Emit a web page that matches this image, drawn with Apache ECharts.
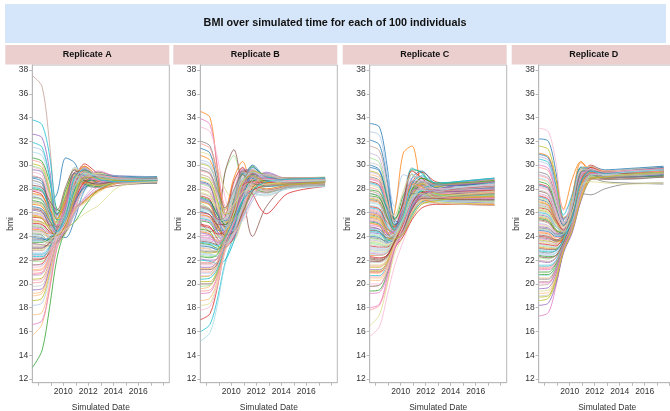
<!DOCTYPE html>
<html>
<head>
<meta charset="utf-8">
<script src="https://cdn.jsdelivr.net/npm/echarts@6/dist/echarts.min.js"></script>
<style>
  html, body { margin: 0; padding: 0; background: #fff; }
  #chart { width: 670px; height: 411px; }
</style>
</head>
<body>
<div id="chart"></div>
<script>
// Simulated dates (decimal years) at which each individual's BMI is sampled
const years = [2007.55, 2008.3, 2008.9, 2009.5, 2010.2, 2010.9, 2011.7, 2012.8, 2014.5, 2017.5];

// BMI trajectories, one row per individual
const bmiA = [
  [29.0, 28.8, 26.8, 27.6, 30.6, 30.2, 28.6, 28.8, 28.9, 28.8],
  [31.5, 31.2, 29.0, 25.6, 25.9, 28.4, 29.7, 29.0, 28.8, 28.7],
  [24.6, 24.5, 23.8, 23.6, 25.8, 28.6, 29.9, 29.1, 28.6, 28.5],
  [15.7, 16.6, 19.5, 23.0, 24.5, 26.3, 28.2, 28.9, 28.8, 28.8],
  [13.0, 14.4, 18.0, 22.2, 24.6, 25.2, 26.5, 27.9, 28.6, 28.7],
  [27.2, 27.0, 25.5, 24.4, 26.8, 29.2, 28.7, 28.4, 28.7, 28.9],
  [21.6, 21.7, 22.8, 24.6, 26.2, 28.7, 30.1, 29.3, 28.8, 28.6],
  [30.4, 30.1, 28.0, 25.2, 24.6, 26.2, 28.4, 29.4, 29.0, 28.9],
  [23.1, 23.1, 23.4, 24.2, 27.0, 29.3, 28.5, 28.2, 28.6, 28.8],
  [26.0, 25.8, 24.9, 24.0, 24.5, 26.6, 27.9, 28.8, 28.9, 28.7],
  [22.0, 22.1, 23.0, 24.8, 27.4, 29.6, 29.2, 28.6, 28.7, 28.6],
  [37.5, 36.6, 31.8, 25.4, 24.4, 26.0, 28.5, 29.1, 28.7, 28.6],
  [25.4, 25.2, 24.3, 23.8, 25.2, 27.8, 29.6, 29.0, 28.8, 28.9],
  [29.8, 29.5, 27.2, 24.8, 26.5, 29.3, 29.4, 28.7, 28.6, 28.7],
  [24.0, 23.9, 23.6, 23.9, 25.4, 27.4, 29.1, 29.4, 28.9, 29.0],
  [28.2, 28.0, 26.6, 25.6, 27.6, 29.4, 28.6, 28.5, 28.8, 28.8],
  [20.4, 20.5, 21.9, 24.0, 25.0, 26.3, 26.9, 27.8, 28.6, 28.7],
  [26.8, 26.6, 25.2, 24.6, 27.3, 29.7, 29.3, 28.6, 28.5, 28.6],
  [33.8, 33.4, 30.8, 26.0, 25.0, 27.4, 29.3, 28.8, 28.8, 28.9],
  [23.6, 23.6, 23.9, 24.9, 26.9, 28.4, 28.8, 29.0, 28.7, 28.8],
  [28.9, 28.6, 26.3, 24.2, 23.9, 25.4, 27.9, 29.2, 29.1, 28.9],
  [22.6, 22.6, 23.2, 24.1, 25.6, 28.0, 29.4, 29.0, 28.6, 28.5],
  [25.8, 25.6, 25.0, 24.8, 26.4, 28.2, 28.6, 28.3, 28.7, 28.8],
  [19.2, 19.4, 21.2, 23.6, 25.3, 27.6, 29.3, 29.1, 28.8, 28.7],
  [30.6, 30.3, 28.6, 26.3, 26.0, 27.5, 29.0, 29.2, 28.9, 29.0],
  [24.3, 24.2, 23.8, 23.4, 24.3, 26.9, 29.2, 29.3, 28.7, 28.6],
  [27.8, 27.5, 26.0, 24.6, 25.3, 27.9, 29.8, 28.9, 28.6, 28.7],
  [21.1, 21.2, 22.4, 24.3, 26.6, 29.0, 29.0, 28.6, 28.8, 28.9],
  [32.6, 32.3, 29.6, 25.8, 26.6, 28.8, 29.2, 28.6, 28.7, 28.8],
  [25.0, 24.9, 24.5, 24.5, 25.9, 28.0, 29.0, 28.8, 28.5, 28.5],
  [23.4, 23.3, 23.2, 23.5, 24.4, 26.0, 27.0, 27.9, 28.3, 28.5],
  [26.4, 26.2, 25.1, 24.3, 26.1, 29.0, 29.9, 28.9, 28.7, 28.6],
  [20.8, 20.9, 22.1, 24.0, 24.8, 26.6, 28.8, 29.5, 28.9, 28.7],
  [29.4, 29.1, 27.0, 24.5, 25.6, 28.6, 29.3, 28.6, 28.6, 28.8],
  [24.8, 24.7, 24.0, 24.1, 26.7, 29.0, 28.3, 28.1, 28.5, 28.7],
  [27.5, 27.3, 26.1, 25.4, 26.0, 27.5, 28.6, 28.9, 28.8, 28.9],
  [18.6, 18.8, 20.8, 23.6, 25.2, 27.2, 28.9, 29.0, 28.8, 28.7],
  [26.0, 25.9, 25.3, 25.2, 27.8, 29.8, 28.7, 28.2, 28.5, 28.6],
  [22.3, 22.3, 22.9, 24.1, 25.5, 27.6, 29.0, 29.2, 28.9, 29.0],
  [31.1, 30.8, 28.9, 26.0, 24.9, 25.9, 27.8, 28.8, 28.7, 28.7],
  [23.9, 23.8, 23.7, 24.3, 26.2, 28.5, 29.5, 29.0, 28.7, 28.7],
  [28.5, 28.2, 26.2, 24.6, 26.9, 29.8, 29.4, 28.7, 28.8, 28.8],
  [24.5, 24.4, 24.2, 24.7, 25.4, 26.4, 27.0, 27.9, 28.5, 28.9],
  [17.4, 17.6, 20.0, 23.4, 25.0, 27.0, 28.7, 29.1, 28.8, 28.6],
  [27.0, 26.8, 25.6, 24.9, 26.6, 28.9, 29.2, 28.5, 28.6, 28.7],
  [21.9, 21.9, 22.7, 24.2, 26.0, 28.2, 28.9, 28.7, 28.7, 28.8],
  [25.6, 25.5, 24.6, 24.0, 24.6, 26.8, 28.8, 29.1, 28.7, 28.5],
  [20.1, 20.2, 21.6, 23.8, 25.7, 28.3, 29.5, 28.9, 28.6, 28.7],
  [29.6, 29.4, 27.6, 25.8, 27.3, 29.0, 28.6, 28.4, 28.7, 28.9],
  [23.3, 23.3, 23.6, 24.6, 25.8, 27.3, 28.2, 28.9, 29.1, 29.0],
  [26.3, 26.1, 24.8, 23.8, 25.1, 28.3, 29.7, 29.0, 28.7, 28.6],
  [22.8, 22.8, 23.5, 24.6, 27.1, 29.1, 28.6, 28.3, 28.6, 28.8],
  [27.9, 27.7, 26.5, 25.0, 25.0, 26.3, 27.2, 28.2, 28.8, 28.8],
  [21.4, 21.5, 22.6, 24.3, 25.4, 27.8, 29.4, 29.1, 28.8, 28.7],
  [24.2, 24.1, 23.5, 23.5, 25.6, 28.5, 29.3, 28.6, 28.5, 28.6],
  [19.8, 19.9, 21.4, 23.9, 24.9, 26.3, 28.1, 29.0, 28.9, 28.8],
  [30.1, 29.8, 27.8, 25.4, 25.8, 28.0, 29.6, 29.0, 28.7, 28.8],
  [25.2, 25.1, 24.7, 24.4, 26.2, 28.6, 28.8, 28.5, 28.7, 28.7],
  [22.5, 22.5, 23.1, 24.4, 26.5, 28.9, 29.7, 29.1, 28.6, 28.5],
  [27.4, 27.1, 25.6, 24.2, 24.8, 27.2, 29.1, 29.1, 28.8, 28.9],
  [23.7, 23.7, 23.9, 24.5, 25.6, 27.0, 28.1, 28.6, 28.8, 28.7],
  [18.2, 18.4, 20.5, 23.5, 24.9, 26.9, 28.8, 29.2, 28.9, 28.8],
  [26.7, 26.5, 25.4, 24.4, 25.8, 28.8, 29.9, 29.0, 28.6, 28.6],
  [21.2, 21.3, 22.3, 23.9, 24.7, 26.2, 26.8, 27.7, 28.6, 28.9],
  [28.0, 27.8, 26.7, 25.9, 27.9, 29.3, 28.4, 28.2, 28.6, 28.8],
  [24.9, 24.8, 24.3, 24.2, 25.2, 27.4, 29.2, 29.3, 28.9, 28.8],
  [22.1, 22.1, 22.6, 23.7, 25.1, 27.9, 29.6, 29.0, 28.7, 28.7],
  [29.1, 28.8, 26.8, 24.9, 26.0, 28.7, 29.3, 28.6, 28.5, 28.6],
  [19.5, 19.6, 21.3, 23.7, 25.5, 27.8, 29.0, 28.9, 28.8, 28.9],
  [25.9, 25.7, 24.6, 23.9, 24.5, 26.0, 27.1, 28.0, 28.7, 28.8],
  [23.0, 23.0, 23.5, 24.5, 26.8, 29.4, 29.5, 28.7, 28.6, 28.7],
  [26.9, 26.7, 25.8, 25.2, 26.3, 27.8, 28.6, 28.8, 28.8, 28.9],
  [16.6, 16.9, 19.6, 23.1, 24.7, 26.6, 28.5, 29.0, 28.8, 28.7],
  [24.4, 24.3, 23.9, 23.9, 24.9, 27.6, 29.7, 29.2, 28.7, 28.6],
  [28.7, 28.4, 26.4, 24.7, 25.3, 27.3, 28.8, 29.1, 28.9, 28.8],
  [20.7, 20.8, 22.2, 24.2, 26.4, 28.9, 29.4, 28.8, 28.7, 28.7],
  [25.3, 25.2, 24.9, 25.3, 27.5, 29.2, 28.5, 28.3, 28.6, 28.8],
  [22.9, 22.9, 23.3, 24.0, 24.9, 26.9, 28.9, 29.3, 28.9, 28.9],
  [31.9, 31.5, 29.0, 25.4, 25.5, 27.9, 29.4, 28.9, 28.8, 28.8],
  [24.1, 24.0, 23.6, 23.7, 25.9, 28.8, 29.2, 28.7, 28.6, 28.7],
  [26.5, 26.3, 25.3, 24.5, 25.2, 26.8, 28.3, 29.2, 29.0, 29.0],
  [21.6, 21.6, 22.5, 24.1, 25.9, 28.3, 29.1, 28.9, 28.7, 28.6],
  [27.6, 27.4, 26.3, 25.5, 27.0, 28.4, 28.5, 28.6, 28.8, 28.8],
  [19.0, 19.2, 21.0, 23.8, 25.2, 27.5, 29.3, 29.2, 28.8, 28.7],
  [23.5, 23.5, 23.8, 24.4, 26.0, 27.9, 28.7, 28.7, 28.7, 28.9],
  [29.9, 29.6, 27.5, 25.1, 25.2, 27.6, 29.5, 29.1, 28.7, 28.7],
  [25.1, 25.0, 24.4, 24.1, 25.0, 27.0, 28.6, 29.1, 28.9, 28.8],
  [20.9, 21.0, 22.4, 24.4, 26.7, 29.2, 29.4, 28.7, 28.6, 28.7],
  [26.2, 26.0, 25.0, 24.2, 26.4, 29.3, 29.1, 28.5, 28.6, 28.8],
  [22.4, 22.4, 22.9, 23.8, 24.5, 25.8, 27.3, 28.5, 28.9, 28.9],
  [28.3, 28.1, 27.0, 26.2, 28.2, 29.6, 28.7, 28.4, 28.7, 28.7],
  [23.8, 23.7, 23.4, 23.5, 24.7, 27.1, 29.0, 29.2, 28.8, 28.6],
  [24.7, 24.6, 24.3, 24.7, 26.6, 28.6, 29.0, 28.7, 28.6, 28.7],
  [20.3, 20.4, 21.8, 23.9, 25.1, 27.3, 28.9, 29.1, 28.9, 28.8],
  [27.3, 27.1, 25.9, 24.8, 25.4, 27.3, 28.9, 29.0, 28.8, 28.9],
  [22.2, 22.2, 22.9, 24.3, 26.1, 28.6, 29.8, 29.0, 28.6, 28.6],
  [25.7, 25.5, 24.6, 24.1, 24.9, 27.4, 29.0, 28.9, 28.7, 28.7],
  [23.2, 23.2, 23.6, 24.2, 24.6, 25.2, 25.9, 26.6, 28.2, 28.6],
  [28.1, 27.9, 26.2, 24.4, 25.7, 29.0, 29.6, 28.8, 28.6, 28.7],
  [24.5, 24.4, 24.1, 24.2, 25.5, 28.1, 29.3, 29.1, 28.8, 28.8]
];

const bmiB = [
  [28.6, 28.3, 26.0, 23.6, 24.6, 28.4, 30.0, 28.9, 28.4, 28.6],
  [30.4, 30.1, 28.0, 25.0, 24.9, 27.4, 29.6, 29.0, 28.6, 28.7],
  [34.5, 34.0, 29.5, 24.6, 24.0, 26.5, 29.0, 29.2, 28.7, 28.8],
  [23.0, 22.9, 22.6, 23.4, 25.8, 28.6, 29.2, 28.4, 28.3, 28.5],
  [24.6, 24.4, 23.2, 23.0, 24.8, 28.2, 29.9, 28.7, 28.4, 28.6],
  [26.8, 26.3, 25.6, 29.4, 30.8, 28.5, 27.5, 28.4, 28.8, 28.9],
  [17.0, 17.5, 19.8, 22.9, 24.6, 26.8, 28.8, 29.1, 28.8, 28.7],
  [29.5, 29.2, 27.4, 25.6, 27.8, 29.7, 28.4, 27.8, 28.2, 28.4],
  [21.4, 21.4, 21.9, 23.4, 25.1, 27.2, 28.9, 29.3, 28.8, 28.9],
  [25.9, 25.6, 24.3, 23.3, 23.8, 25.6, 27.8, 28.9, 28.8, 28.7],
  [25.2, 24.4, 24.8, 29.4, 31.3, 27.8, 24.0, 26.5, 28.2, 28.4],
  [27.6, 27.3, 26.0, 25.4, 27.6, 29.4, 28.8, 28.2, 28.5, 28.6],
  [33.9, 33.4, 29.8, 25.8, 24.1, 25.8, 28.4, 29.2, 28.9, 28.9],
  [33.2, 32.8, 30.6, 27.3, 25.2, 25.3, 27.0, 28.4, 28.6, 28.5],
  [32.0, 31.6, 29.0, 25.8, 26.4, 29.4, 29.6, 28.7, 28.6, 28.7],
  [24.0, 23.9, 23.9, 25.2, 28.4, 29.8, 28.0, 27.6, 28.1, 28.3],
  [20.6, 20.7, 21.6, 23.5, 24.3, 25.9, 27.8, 28.9, 28.9, 28.8],
  [31.1, 30.8, 29.7, 28.0, 27.1, 27.6, 28.8, 28.9, 28.7, 28.8],
  [16.0, 16.6, 18.8, 21.8, 24.0, 25.9, 27.8, 28.7, 28.7, 28.8],
  [15.2, 15.9, 18.3, 21.6, 23.6, 25.4, 27.3, 28.5, 28.6, 28.6],
  [26.1, 25.8, 24.4, 23.8, 26.0, 29.3, 29.4, 28.4, 28.5, 28.7],
  [22.5, 22.4, 22.3, 23.3, 24.5, 26.3, 28.3, 29.1, 28.9, 28.9],
  [30.8, 30.4, 28.6, 26.2, 28.9, 30.3, 28.1, 27.7, 28.3, 28.5],
  [19.6, 19.8, 20.9, 23.1, 25.0, 27.5, 29.3, 28.9, 28.6, 28.7],
  [25.3, 25.1, 24.1, 23.6, 25.4, 27.8, 28.4, 28.3, 28.5, 28.6],
  [28.9, 28.6, 26.8, 24.9, 24.6, 26.2, 28.1, 29.0, 28.9, 29.0],
  [27.4, 27.1, 25.4, 25.6, 28.6, 29.8, 27.6, 25.9, 27.6, 28.2],
  [21.0, 21.0, 21.8, 23.6, 26.2, 28.9, 29.2, 28.5, 28.4, 28.6],
  [24.3, 24.1, 23.5, 23.7, 24.5, 26.2, 28.6, 29.4, 28.8, 28.7],
  [29.8, 29.5, 27.0, 24.0, 23.8, 25.9, 28.5, 29.1, 28.9, 28.9],
  [23.6, 23.5, 23.3, 24.2, 27.2, 29.3, 28.3, 27.9, 28.2, 28.4],
  [26.6, 26.3, 25.2, 24.9, 25.5, 27.0, 28.2, 28.6, 28.6, 28.7],
  [19.2, 19.3, 20.6, 22.9, 24.3, 26.4, 28.7, 29.2, 28.8, 28.8],
  [28.2, 27.9, 26.4, 25.6, 27.9, 29.5, 28.9, 28.3, 28.5, 28.5],
  [22.8, 22.7, 22.7, 23.9, 25.6, 27.6, 28.5, 28.6, 28.6, 28.7],
  [25.6, 25.4, 24.9, 25.4, 27.6, 28.9, 28.1, 28.0, 28.3, 28.5],
  [20.2, 20.2, 21.2, 23.4, 25.7, 28.6, 29.6, 28.8, 28.5, 28.6],
  [27.9, 27.6, 25.5, 23.5, 23.6, 25.5, 27.9, 29.0, 28.9, 28.9],
  [22.0, 21.9, 21.7, 22.0, 23.6, 26.6, 28.6, 29.0, 28.8, 28.9],
  [24.8, 24.6, 23.9, 24.0, 26.5, 29.4, 29.0, 28.3, 28.4, 28.6],
  [31.4, 31.0, 28.3, 24.8, 25.1, 28.0, 29.8, 29.0, 28.6, 28.8],
  [23.3, 23.2, 22.8, 23.0, 24.2, 26.8, 29.0, 28.9, 28.7, 28.7],
  [26.9, 26.6, 25.0, 24.1, 25.9, 28.6, 29.1, 28.5, 28.5, 28.7],
  [18.6, 18.8, 20.3, 23.0, 24.8, 27.2, 29.0, 28.9, 28.7, 28.6],
  [22.3, 22.2, 22.5, 24.0, 26.9, 29.2, 28.2, 27.7, 28.1, 28.3],
  [28.4, 28.1, 26.9, 26.3, 27.3, 28.1, 28.5, 28.6, 28.7, 28.8],
  [25.0, 24.8, 23.8, 23.1, 23.9, 26.0, 28.1, 28.9, 28.8, 28.9],
  [21.8, 21.8, 22.2, 23.7, 25.2, 27.4, 28.8, 28.7, 28.5, 28.6],
  [27.1, 26.8, 25.3, 24.4, 26.6, 29.6, 29.5, 28.4, 28.4, 28.6],
  [23.8, 23.7, 23.7, 24.5, 25.2, 26.3, 27.4, 28.2, 28.5, 28.6],
  [20.0, 20.0, 21.0, 23.2, 26.3, 29.5, 29.3, 28.4, 28.5, 28.7],
  [29.2, 28.9, 27.6, 26.0, 25.8, 26.9, 28.4, 28.9, 28.8, 28.8],
  [24.1, 24.0, 23.4, 23.3, 24.0, 25.6, 27.3, 28.7, 28.9, 28.9],
  [21.6, 21.6, 21.9, 23.3, 25.4, 28.3, 29.6, 28.9, 28.6, 28.6],
  [26.4, 26.1, 24.7, 23.9, 24.8, 27.4, 29.2, 29.0, 28.8, 28.7],
  [23.1, 23.0, 23.2, 24.6, 27.4, 29.0, 27.7, 27.4, 28.0, 28.2],
  [30.1, 29.8, 28.1, 25.9, 26.1, 28.2, 29.3, 28.8, 28.6, 28.7],
  [18.2, 18.4, 20.1, 22.8, 24.5, 26.8, 28.6, 28.8, 28.6, 28.7],
  [25.5, 25.3, 24.5, 24.6, 26.9, 29.3, 28.9, 28.2, 28.3, 28.5],
  [22.6, 22.5, 22.4, 23.2, 24.1, 25.5, 27.0, 28.3, 28.7, 28.8],
  [27.2, 26.9, 25.8, 25.3, 26.4, 28.1, 28.9, 28.7, 28.7, 28.9],
  [20.9, 20.9, 21.5, 23.4, 25.9, 28.8, 29.7, 28.8, 28.5, 28.6],
  [24.4, 24.2, 23.6, 23.9, 26.2, 28.4, 28.3, 28.0, 28.3, 28.5],
  [28.7, 28.4, 26.5, 24.5, 24.3, 26.0, 28.3, 29.2, 28.9, 28.9],
  [23.4, 23.3, 23.0, 23.5, 25.3, 28.0, 29.4, 28.9, 28.6, 28.7],
  [19.8, 19.9, 21.0, 23.4, 25.5, 28.0, 29.0, 28.6, 28.5, 28.6],
  [26.0, 25.8, 25.0, 25.0, 26.0, 27.3, 27.9, 28.3, 28.5, 28.6],
  [31.8, 31.4, 29.4, 26.5, 26.3, 28.3, 29.5, 28.8, 28.6, 28.7],
  [22.1, 22.0, 22.1, 23.2, 24.8, 27.3, 29.1, 29.1, 28.8, 28.8],
  [25.7, 25.5, 24.2, 23.5, 24.4, 27.3, 29.5, 28.9, 28.6, 28.7],
  [21.2, 21.2, 21.7, 23.4, 24.9, 26.8, 28.4, 28.9, 28.8, 28.9],
  [28.0, 27.7, 26.2, 25.1, 26.8, 29.1, 29.1, 28.4, 28.4, 28.6],
  [23.9, 23.8, 23.5, 24.0, 25.8, 27.8, 28.5, 28.4, 28.5, 28.7],
  [17.8, 18.1, 19.9, 22.7, 24.2, 26.3, 28.4, 29.0, 28.8, 28.8],
  [27.0, 26.7, 25.5, 24.8, 25.4, 27.0, 28.6, 29.0, 28.9, 28.9],
  [22.9, 22.8, 22.9, 24.3, 26.6, 28.6, 28.3, 27.8, 28.2, 28.4],
  [29.0, 28.7, 27.0, 25.2, 25.5, 27.7, 29.5, 29.2, 28.8, 28.8],
  [24.7, 24.5, 24.0, 24.2, 25.3, 27.2, 28.4, 28.7, 28.7, 28.8],
  [20.4, 20.5, 21.3, 23.2, 24.7, 27.0, 29.0, 29.0, 28.6, 28.6],
  [26.3, 26.1, 25.3, 25.5, 27.7, 28.8, 27.7, 27.5, 28.0, 28.2],
  [23.2, 23.1, 22.9, 23.6, 25.0, 27.5, 29.2, 28.9, 28.6, 28.7],
  [30.2, 29.9, 27.8, 25.0, 24.5, 26.6, 29.0, 29.2, 28.8, 28.9],
  [25.8, 25.6, 24.6, 24.0, 25.6, 28.4, 29.3, 28.6, 28.5, 28.6],
  [21.3, 21.3, 21.9, 23.8, 26.0, 28.1, 28.6, 28.4, 28.5, 28.7],
  [27.3, 27.0, 25.8, 25.0, 25.7, 27.6, 28.7, 28.7, 28.7, 28.8],
  [22.4, 22.3, 22.5, 23.7, 25.1, 26.4, 27.5, 28.3, 28.6, 28.7],
  [24.9, 24.7, 24.2, 24.4, 26.1, 28.3, 28.6, 28.5, 28.6, 28.7],
  [19.4, 19.5, 20.7, 23.1, 25.2, 27.9, 29.4, 28.9, 28.6, 28.6],
  [28.5, 28.2, 26.1, 24.2, 25.3, 28.1, 29.3, 28.7, 28.5, 28.7],
  [23.7, 23.6, 23.5, 24.3, 26.4, 28.2, 27.8, 27.7, 28.1, 28.3],
  [26.5, 26.2, 24.9, 24.1, 24.4, 26.0, 27.8, 28.8, 28.8, 28.8],
  [21.7, 21.7, 22.2, 23.9, 26.6, 29.4, 29.0, 28.3, 28.4, 28.6],
  [25.4, 25.2, 24.4, 23.8, 25.0, 27.6, 29.0, 28.9, 28.7, 28.8],
  [20.7, 20.7, 21.5, 23.5, 25.3, 27.3, 28.5, 28.8, 28.7, 28.7],
  [29.6, 29.3, 27.8, 26.4, 27.9, 29.2, 28.5, 28.2, 28.4, 28.6],
  [24.5, 24.3, 23.7, 23.4, 24.3, 26.5, 28.7, 29.1, 28.8, 28.8],
  [22.7, 22.6, 22.8, 24.1, 26.0, 28.6, 29.1, 28.5, 28.4, 28.6],
  [27.7, 27.4, 26.4, 25.9, 26.7, 27.7, 28.1, 28.4, 28.6, 28.7],
  [23.5, 23.4, 23.2, 23.9, 25.4, 27.0, 27.9, 28.6, 28.8, 28.9],
  [26.2, 26.0, 25.1, 24.6, 25.9, 28.5, 29.4, 28.8, 28.6, 28.7]
];

const bmiC = [
  [33.5, 33.2, 30.0, 25.2, 24.6, 26.4, 27.6, 27.9, 28.0, 28.3],
  [32.8, 32.5, 29.5, 26.5, 29.2, 28.8, 27.4, 27.2, 27.4, 27.6],
  [27.0, 26.8, 25.0, 26.0, 31.0, 31.6, 28.2, 27.4, 27.6, 27.9],
  [29.2, 28.9, 26.4, 23.8, 24.4, 26.6, 27.9, 27.8, 27.7, 27.8],
  [25.2, 25.0, 23.8, 23.8, 26.4, 29.6, 29.4, 28.0, 28.2, 28.4],
  [23.4, 23.3, 23.1, 23.5, 24.6, 26.3, 27.3, 27.4, 27.5, 27.4],
  [28.6, 28.3, 26.2, 24.5, 25.9, 28.5, 29.4, 28.6, 28.4, 28.6],
  [17.8, 18.2, 20.0, 22.8, 24.5, 26.6, 27.8, 27.5, 27.6, 27.7],
  [26.0, 25.8, 24.5, 23.6, 24.2, 25.8, 26.9, 27.0, 26.9, 26.8],
  [31.0, 30.6, 27.8, 24.6, 25.6, 27.8, 28.3, 27.8, 27.9, 28.1],
  [22.2, 22.1, 22.4, 23.4, 25.3, 27.5, 28.3, 27.9, 28.0, 28.3],
  [27.8, 27.5, 25.8, 24.4, 25.0, 26.8, 27.6, 27.4, 27.3, 27.2],
  [18.0, 18.3, 20.4, 23.0, 24.3, 26.2, 27.5, 27.6, 27.9, 28.1],
  [15.6, 16.4, 18.9, 21.5, 23.6, 25.5, 26.8, 27.3, 27.6, 27.7],
  [24.8, 24.6, 23.9, 24.0, 25.7, 27.7, 28.2, 27.6, 27.4, 27.3],
  [30.2, 29.9, 28.0, 25.8, 27.6, 29.8, 28.4, 27.6, 27.8, 28.0],
  [21.4, 21.4, 21.9, 23.3, 24.4, 26.0, 27.0, 27.1, 27.0, 26.9],
  [16.5, 17.4, 19.8, 22.5, 24.0, 25.8, 27.0, 27.5, 27.8, 28.0],
  [24.6, 24.4, 23.6, 24.0, 26.8, 29.7, 29.3, 27.7, 27.8, 28.0],
  [26.6, 26.4, 25.1, 24.3, 25.2, 27.0, 27.9, 28.1, 28.4, 28.7],
  [29.8, 29.5, 27.2, 24.9, 26.3, 28.9, 29.5, 28.4, 28.3, 28.5],
  [22.9, 22.8, 22.8, 23.6, 25.4, 27.6, 28.0, 27.6, 27.5, 27.4],
  [25.6, 25.4, 24.3, 23.6, 24.5, 26.4, 27.3, 27.6, 28.0, 28.3],
  [20.3, 20.3, 21.3, 23.2, 24.9, 27.0, 28.2, 28.2, 28.5, 28.8],
  [27.4, 27.2, 26.0, 25.4, 27.4, 28.6, 27.7, 27.2, 27.1, 27.0],
  [23.8, 23.7, 23.4, 23.9, 26.0, 28.3, 28.6, 28.0, 28.1, 28.4],
  [21.0, 21.0, 21.6, 23.0, 24.0, 25.4, 26.4, 26.7, 26.7, 26.6],
  [28.1, 27.8, 25.9, 24.1, 24.9, 27.4, 28.6, 28.4, 28.6, 28.9],
  [24.3, 24.2, 23.7, 23.8, 25.0, 26.9, 27.4, 27.1, 27.0, 27.1],
  [26.3, 26.1, 25.0, 24.7, 26.6, 28.9, 29.0, 28.1, 28.0, 28.2],
  [19.8, 19.9, 21.0, 23.0, 24.6, 26.7, 27.8, 27.9, 28.2, 28.5],
  [31.6, 31.2, 28.5, 25.0, 24.8, 26.5, 27.8, 27.7, 27.6, 27.6],
  [22.6, 22.5, 22.6, 23.5, 25.8, 28.3, 28.4, 27.6, 27.6, 27.8],
  [25.0, 24.9, 24.3, 24.4, 25.6, 27.1, 27.4, 27.2, 27.3, 27.5],
  [29.0, 28.7, 26.6, 24.8, 26.8, 29.2, 28.5, 27.7, 27.8, 28.0],
  [21.8, 21.8, 22.1, 23.4, 25.1, 27.3, 28.3, 28.4, 28.6, 28.8],
  [27.2, 27.0, 25.6, 24.5, 24.7, 25.9, 26.8, 26.9, 26.8, 26.7],
  [23.6, 23.5, 23.3, 23.8, 25.6, 27.9, 28.7, 28.2, 28.2, 28.4],
  [20.7, 20.7, 21.5, 23.2, 24.3, 25.8, 26.9, 27.3, 27.4, 27.6],
  [26.8, 26.6, 25.5, 25.1, 27.2, 29.3, 28.3, 27.4, 27.4, 27.6],
  [24.0, 23.9, 23.5, 23.7, 24.8, 26.8, 27.9, 28.0, 28.3, 28.6],
  [28.4, 28.1, 26.0, 24.3, 25.3, 27.8, 28.8, 28.3, 28.2, 28.3],
  [22.4, 22.4, 22.6, 23.7, 25.4, 26.9, 27.1, 26.8, 26.7, 26.7],
  [25.4, 25.2, 24.2, 23.7, 25.2, 27.9, 28.9, 28.4, 28.5, 28.7],
  [19.4, 19.5, 20.8, 23.0, 24.7, 27.0, 28.0, 27.7, 27.7, 27.9],
  [30.6, 30.2, 27.5, 24.7, 25.9, 28.0, 27.9, 27.3, 27.4, 27.5],
  [23.2, 23.1, 23.1, 23.8, 25.2, 26.9, 27.6, 27.7, 27.9, 28.2],
  [26.2, 26.0, 24.8, 24.1, 25.9, 28.6, 28.6, 27.6, 27.5, 27.6],
  [21.2, 21.2, 21.7, 23.2, 24.6, 26.5, 27.6, 27.9, 28.3, 28.6],
  [27.6, 27.4, 26.2, 25.6, 26.5, 27.4, 27.2, 27.0, 27.1, 27.2],
  [24.5, 24.4, 23.8, 23.7, 24.5, 26.2, 27.6, 28.1, 28.5, 28.8],
  [22.0, 21.9, 22.2, 23.5, 25.8, 28.6, 28.5, 27.5, 27.4, 27.5],
  [28.8, 28.5, 26.4, 24.2, 24.3, 26.0, 27.2, 27.4, 27.5, 27.7],
  [20.0, 20.0, 21.0, 23.0, 24.4, 26.1, 27.1, 27.4, 27.7, 27.9],
  [25.8, 25.6, 24.6, 24.3, 25.8, 28.0, 28.4, 27.9, 28.0, 28.2],
  [23.0, 22.9, 22.9, 23.6, 24.7, 26.1, 26.8, 26.8, 26.7, 26.6],
  [29.5, 29.2, 27.1, 24.9, 25.6, 27.6, 28.5, 28.2, 28.4, 28.7],
  [21.6, 21.6, 22.0, 23.4, 25.3, 27.8, 28.6, 28.0, 28.0, 28.2],
  [26.4, 26.2, 24.9, 24.2, 25.3, 27.3, 27.8, 27.5, 27.4, 27.5],
  [24.2, 24.1, 23.8, 24.3, 26.1, 28.0, 27.8, 27.1, 27.0, 27.1],
  [32.1, 31.7, 28.9, 25.4, 25.1, 27.2, 28.6, 28.3, 28.3, 28.5],
  [22.7, 22.6, 22.7, 23.6, 24.9, 26.7, 27.7, 27.8, 28.0, 28.3],
  [25.1, 24.9, 24.0, 23.6, 24.9, 27.4, 28.2, 27.8, 27.7, 27.8],
  [20.5, 20.5, 21.4, 23.2, 25.0, 27.5, 28.5, 28.1, 28.0, 28.2],
  [27.9, 27.7, 26.4, 25.5, 26.7, 28.1, 27.8, 27.3, 27.2, 27.3],
  [23.5, 23.4, 23.2, 23.6, 24.4, 25.9, 27.2, 27.6, 27.9, 28.2],
  [26.5, 26.3, 25.2, 24.8, 27.0, 29.5, 28.9, 27.9, 27.8, 27.9],
  [21.5, 21.5, 21.9, 23.3, 24.7, 26.4, 27.3, 27.3, 27.3, 27.4],
  [24.7, 24.6, 24.1, 24.5, 26.5, 28.5, 28.3, 27.7, 27.8, 28.0],
  [29.4, 29.1, 26.8, 24.4, 24.9, 27.0, 28.2, 28.3, 28.5, 28.8],
  [22.1, 22.0, 22.3, 23.6, 25.6, 28.0, 28.9, 28.4, 28.4, 28.6],
  [25.5, 25.3, 24.4, 24.0, 24.8, 26.5, 27.3, 27.2, 27.1, 27.0],
  [19.2, 19.3, 20.6, 22.9, 24.4, 26.3, 27.6, 27.8, 28.0, 28.2],
  [27.3, 27.1, 25.7, 24.6, 25.8, 28.2, 28.7, 28.0, 27.9, 28.0],
  [23.9, 23.8, 23.6, 24.1, 25.3, 26.9, 27.4, 27.4, 27.6, 27.8],
  [26.9, 26.7, 25.3, 24.5, 24.7, 26.2, 27.3, 27.7, 28.0, 28.3],
  [21.1, 21.1, 21.8, 23.4, 25.5, 28.0, 28.4, 27.6, 27.5, 27.6],
  [28.3, 28.0, 26.7, 25.7, 27.8, 29.2, 28.1, 27.3, 27.4, 27.6],
  [24.4, 24.3, 23.7, 23.6, 24.6, 26.7, 28.0, 28.3, 28.6, 28.9],
  [22.5, 22.4, 22.6, 23.7, 25.6, 27.3, 27.5, 27.0, 26.9, 26.9],
  [30.0, 29.6, 27.4, 25.0, 25.5, 27.7, 28.6, 28.1, 28.0, 28.1],
  [23.1, 23.0, 23.0, 23.8, 25.1, 27.2, 28.2, 28.0, 28.1, 28.4],
  [25.9, 25.7, 24.7, 24.2, 26.0, 28.4, 28.2, 27.4, 27.3, 27.3],
  [20.9, 20.9, 21.6, 23.3, 24.5, 26.1, 27.0, 27.2, 27.4, 27.7],
  [27.6, 27.3, 25.7, 24.5, 25.5, 27.9, 28.9, 28.5, 28.5, 28.7],
  [24.1, 24.0, 23.7, 23.9, 25.5, 27.5, 27.9, 27.5, 27.4, 27.5],
  [22.3, 22.2, 22.4, 23.6, 25.0, 26.8, 27.7, 27.8, 28.0, 28.2],
  [28.9, 28.6, 26.9, 25.3, 26.5, 28.5, 28.0, 27.2, 27.2, 27.3],
  [25.3, 25.1, 24.2, 23.8, 24.6, 26.4, 27.5, 27.9, 28.3, 28.6],
  [23.7, 23.6, 23.4, 24.0, 26.2, 28.7, 28.7, 27.8, 27.7, 27.8],
  [21.9, 21.9, 22.3, 23.5, 24.6, 26.3, 27.2, 27.2, 27.1, 27.1],
  [26.1, 25.9, 24.7, 24.0, 25.2, 27.6, 28.6, 28.3, 28.4, 28.6],
  [24.9, 24.8, 24.3, 24.4, 25.9, 27.8, 28.0, 27.4, 27.2, 27.2],
  [20.6, 20.6, 21.4, 23.1, 24.8, 26.9, 28.0, 28.0, 28.1, 28.4],
  [27.1, 26.9, 25.5, 24.7, 26.0, 27.6, 27.6, 27.3, 27.4, 27.6],
  [23.3, 23.2, 23.2, 23.9, 25.7, 28.1, 28.6, 28.0, 28.0, 28.2],
  [25.7, 25.5, 24.4, 23.8, 24.2, 25.6, 26.7, 27.0, 27.2, 27.4],
  [22.8, 22.7, 22.8, 23.8, 25.6, 27.4, 27.6, 27.3, 27.5, 27.8],
  [28.5, 28.2, 26.3, 24.6, 25.7, 28.4, 29.1, 28.5, 28.6, 28.9],
  [24.6, 24.5, 24.0, 24.2, 25.4, 27.2, 27.9, 27.8, 28.1, 28.5]
];

const bmiD = [
  [32.2, 32.0, 29.4, 25.3, 25.0, 27.8, 29.5, 29.5, 29.6, 29.8],
  [30.3, 30.0, 27.6, 24.8, 26.9, 29.9, 29.6, 29.2, 29.4, 29.6],
  [31.0, 30.7, 28.8, 26.3, 28.8, 30.3, 29.4, 29.0, 29.2, 29.4],
  [24.6, 24.5, 23.8, 23.6, 25.4, 28.4, 29.5, 29.3, 29.3, 29.5],
  [22.4, 22.3, 22.4, 23.0, 24.6, 27.8, 29.4, 29.2, 29.1, 29.3],
  [26.8, 26.6, 25.4, 24.6, 27.4, 29.8, 29.3, 28.9, 29.1, 29.2],
  [28.4, 28.1, 26.2, 24.3, 25.8, 28.9, 30.0, 29.5, 29.5, 29.7],
  [21.3, 21.3, 21.9, 23.4, 25.2, 28.0, 29.5, 29.4, 29.6, 29.8],
  [25.8, 25.6, 24.6, 24.2, 26.4, 29.4, 29.8, 29.3, 29.2, 29.3],
  [23.6, 23.5, 23.3, 23.7, 25.0, 27.4, 28.8, 29.0, 29.1, 29.2],
  [27.8, 27.5, 25.7, 24.1, 25.4, 28.3, 29.3, 29.1, 29.3, 29.5],
  [20.2, 20.2, 21.1, 23.0, 24.7, 27.5, 29.2, 29.3, 29.4, 29.6],
  [17.3, 17.6, 19.8, 22.7, 24.4, 27.0, 28.9, 29.0, 29.2, 29.3],
  [33.1, 32.8, 30.2, 26.2, 26.9, 29.4, 29.9, 29.5, 29.4, 29.5],
  [29.4, 29.1, 27.3, 25.4, 26.4, 27.6, 27.5, 28.0, 28.4, 28.5],
  [24.2, 24.1, 23.7, 24.0, 26.5, 29.4, 29.7, 29.4, 29.6, 29.9],
  [26.2, 26.0, 25.1, 24.9, 26.6, 28.6, 28.9, 28.8, 28.9, 29.0],
  [19.4, 19.5, 20.6, 22.8, 24.5, 27.2, 28.9, 29.2, 29.5, 29.7],
  [27.3, 27.0, 25.5, 24.4, 26.0, 28.9, 29.6, 29.4, 29.5, 29.6],
  [22.9, 22.8, 22.9, 23.6, 25.3, 28.2, 29.3, 29.0, 29.0, 29.1],
  [30.9, 30.6, 28.3, 25.5, 26.3, 28.9, 29.9, 29.6, 29.7, 29.9],
  [25.1, 24.9, 24.2, 24.0, 25.6, 28.5, 29.6, 29.2, 29.1, 29.2],
  [23.1, 23.0, 23.0, 23.7, 26.2, 29.5, 29.6, 29.1, 29.2, 29.4],
  [28.8, 28.5, 26.5, 24.8, 26.8, 29.6, 29.4, 29.0, 29.0, 29.1],
  [20.8, 20.8, 21.5, 23.2, 24.9, 27.7, 29.3, 29.4, 29.6, 29.8],
  [26.5, 26.3, 25.1, 24.3, 25.5, 28.0, 29.2, 29.2, 29.4, 29.5],
  [24.0, 23.9, 23.6, 23.8, 25.1, 27.8, 29.0, 28.9, 28.9, 29.0],
  [29.8, 29.5, 27.5, 25.2, 26.0, 28.6, 29.8, 29.5, 29.5, 29.7],
  [21.9, 21.8, 22.2, 23.5, 25.6, 28.7, 29.7, 29.3, 29.3, 29.5],
  [27.6, 27.3, 25.9, 25.1, 27.6, 29.8, 29.2, 28.9, 29.0, 29.1],
  [25.4, 25.2, 24.4, 24.1, 25.3, 27.9, 29.1, 29.1, 29.3, 29.6],
  [19.9, 20.0, 21.0, 23.0, 24.9, 27.8, 29.3, 29.2, 29.3, 29.4],
  [23.8, 23.7, 23.4, 23.8, 25.8, 28.8, 29.5, 29.2, 29.3, 29.5],
  [28.1, 27.8, 26.1, 24.6, 25.6, 28.4, 29.6, 29.3, 29.2, 29.3],
  [22.7, 22.6, 22.8, 23.7, 25.5, 28.2, 29.1, 29.0, 29.1, 29.2],
  [26.1, 25.9, 24.9, 24.3, 26.2, 29.3, 29.8, 29.4, 29.5, 29.7],
  [18.6, 18.8, 20.2, 22.7, 24.5, 27.3, 29.1, 29.3, 29.5, 29.7],
  [24.9, 24.8, 24.2, 24.3, 26.3, 29.0, 29.3, 28.9, 28.9, 29.0],
  [30.5, 30.2, 28.2, 25.8, 27.5, 29.7, 29.4, 29.1, 29.2, 29.3],
  [21.6, 21.6, 22.0, 23.4, 25.0, 27.9, 29.4, 29.3, 29.4, 29.6],
  [27.1, 26.8, 25.3, 24.2, 25.2, 28.0, 29.5, 29.4, 29.4, 29.6],
  [23.3, 23.2, 23.1, 23.7, 25.7, 28.9, 29.9, 29.4, 29.4, 29.6],
  [25.6, 25.4, 24.5, 24.4, 27.3, 30.2, 29.5, 28.9, 28.9, 29.1],
  [20.5, 20.5, 21.4, 23.1, 24.6, 27.3, 29.0, 29.1, 29.3, 29.4],
  [28.6, 28.3, 26.6, 25.0, 25.9, 28.4, 29.3, 29.1, 29.1, 29.2],
  [22.2, 22.1, 22.4, 23.5, 25.4, 28.5, 29.6, 29.3, 29.4, 29.6],
  [26.4, 26.2, 25.2, 24.6, 25.6, 27.7, 28.8, 28.8, 28.9, 29.0],
  [24.4, 24.3, 23.9, 24.0, 26.0, 29.2, 29.7, 29.2, 29.2, 29.4],
  [18.2, 18.4, 20.0, 22.6, 24.3, 27.0, 28.8, 29.1, 29.4, 29.6],
  [29.2, 28.9, 27.0, 25.0, 25.7, 28.3, 29.7, 29.5, 29.6, 29.8],
  [23.0, 22.9, 22.9, 23.8, 26.6, 29.8, 29.6, 29.0, 29.1, 29.3],
  [25.3, 25.1, 24.3, 23.9, 24.9, 27.5, 29.0, 29.2, 29.5, 29.8],
  [21.2, 21.2, 21.7, 23.3, 25.3, 28.4, 29.7, 29.4, 29.3, 29.4],
  [27.5, 27.2, 25.6, 24.5, 26.3, 29.3, 29.8, 29.3, 29.3, 29.4],
  [24.7, 24.6, 24.1, 24.3, 25.6, 28.0, 28.9, 28.6, 28.5, 28.4],
  [19.0, 19.1, 20.5, 22.9, 24.7, 27.6, 29.3, 29.4, 29.6, 29.8],
  [31.6, 31.3, 28.8, 25.6, 26.2, 28.7, 29.6, 29.4, 29.5, 29.6],
  [23.5, 23.4, 23.3, 23.9, 25.5, 28.3, 29.4, 29.2, 29.3, 29.5],
  [26.0, 25.8, 24.8, 24.4, 26.8, 29.8, 29.7, 29.1, 29.1, 29.2],
  [20.7, 20.7, 21.4, 23.1, 24.6, 27.4, 29.1, 29.2, 29.4, 29.6],
  [28.3, 28.0, 26.3, 24.9, 26.4, 29.1, 29.5, 29.0, 29.0, 29.1],
  [22.5, 22.4, 22.6, 23.6, 25.2, 28.0, 29.4, 29.4, 29.5, 29.7],
  [24.3, 24.2, 23.7, 23.6, 24.7, 27.4, 28.9, 29.0, 29.1, 29.3],
  [27.0, 26.7, 25.2, 24.3, 26.6, 29.7, 29.9, 29.5, 29.5, 29.7],
  [21.0, 21.0, 21.7, 23.3, 25.0, 28.0, 29.5, 29.3, 29.3, 29.4],
  [25.7, 25.5, 24.6, 24.3, 25.7, 28.2, 29.1, 29.0, 29.2, 29.4],
  [23.4, 23.3, 23.2, 23.9, 26.0, 29.0, 29.5, 29.1, 29.2, 29.3],
  [29.1, 28.8, 26.9, 25.1, 26.6, 29.3, 29.4, 29.0, 28.9, 29.0],
  [19.6, 19.7, 20.8, 23.0, 24.8, 27.7, 29.3, 29.3, 29.4, 29.6],
  [26.7, 26.5, 25.3, 24.6, 25.8, 28.6, 29.6, 29.3, 29.4, 29.5],
  [24.1, 24.0, 23.7, 24.1, 26.1, 28.9, 29.3, 28.9, 28.9, 29.0],
  [22.0, 21.9, 22.2, 23.5, 25.3, 28.3, 29.6, 29.4, 29.5, 29.7],
  [30.0, 29.7, 27.7, 25.5, 26.6, 29.2, 29.7, 29.3, 29.3, 29.5],
  [25.0, 24.9, 24.3, 24.2, 25.7, 28.6, 29.4, 29.1, 29.1, 29.3],
  [20.4, 20.4, 21.3, 23.2, 25.0, 27.8, 29.4, 29.4, 29.5, 29.7],
  [27.9, 27.6, 26.0, 24.8, 25.7, 27.9, 28.8, 28.8, 28.9, 29.0],
  [23.7, 23.6, 23.5, 23.9, 25.6, 28.7, 29.8, 29.4, 29.4, 29.6],
  [26.3, 26.1, 25.0, 24.4, 25.4, 28.1, 29.3, 29.2, 29.3, 29.4],
  [21.5, 21.5, 21.9, 23.4, 25.5, 28.6, 29.6, 29.2, 29.2, 29.4],
  [28.9, 28.6, 26.8, 25.2, 26.9, 29.5, 29.5, 29.1, 29.1, 29.2],
  [24.5, 24.4, 24.0, 24.1, 25.3, 27.9, 29.3, 29.3, 29.5, 29.8],
  [22.6, 22.5, 22.6, 23.6, 25.9, 29.1, 29.7, 29.2, 29.2, 29.3],
  [26.9, 26.6, 25.3, 24.5, 25.6, 28.3, 29.4, 29.3, 29.4, 29.5],
  [19.2, 19.3, 20.6, 22.9, 24.6, 27.4, 29.2, 29.3, 29.5, 29.7],
  [25.5, 25.3, 24.5, 24.2, 26.2, 29.4, 29.6, 29.0, 29.0, 29.1],
  [23.2, 23.1, 23.0, 23.6, 24.9, 27.6, 29.0, 29.0, 29.1, 29.3],
  [27.4, 27.1, 25.5, 24.5, 26.0, 28.8, 29.8, 29.4, 29.4, 29.6],
  [21.4, 21.4, 21.8, 23.3, 25.1, 28.0, 29.3, 29.2, 29.3, 29.5],
  [24.8, 24.7, 24.2, 24.4, 26.4, 29.4, 29.5, 29.0, 29.0, 29.2],
  [30.7, 30.4, 28.0, 25.1, 25.8, 28.5, 29.6, 29.3, 29.4, 29.6],
  [22.3, 22.2, 22.4, 23.5, 25.4, 28.5, 29.6, 29.3, 29.3, 29.4],
  [26.6, 26.4, 25.2, 24.5, 25.9, 28.7, 29.3, 29.0, 29.1, 29.3],
  [20.1, 20.1, 21.1, 23.0, 24.7, 27.6, 29.3, 29.3, 29.5, 29.7],
  [28.2, 27.9, 26.2, 24.7, 26.0, 28.9, 29.7, 29.4, 29.5, 29.6],
  [23.9, 23.8, 23.6, 24.0, 25.8, 28.7, 29.2, 28.8, 28.8, 29.0],
  [25.9, 25.7, 24.8, 24.4, 26.6, 29.6, 29.6, 29.1, 29.2, 29.4],
  [18.9, 19.0, 20.4, 22.8, 24.5, 27.1, 28.8, 29.0, 29.2, 29.4],
  [27.2, 26.9, 25.6, 24.7, 26.1, 28.3, 28.6, 28.5, 28.4, 28.5],
  [22.8, 22.7, 22.8, 23.7, 25.6, 28.6, 29.5, 29.3, 29.4, 29.6],
  [24.6, 24.5, 24.1, 24.2, 25.3, 27.8, 29.2, 29.2, 29.4, 29.6]
];

const replicates = ['Replicate A', 'Replicate B', 'Replicate C', 'Replicate D'];
const panelData = [bmiA, bmiB, bmiC, bmiD];
const yTicks = [12, 14, 16, 18, 20, 22, 24, 26, 28, 30, 32, 34, 36, 38];
const xTicks = [2008, 2009, 2010, 2011, 2012, 2013, 2014, 2015, 2016, 2017, 2018];
const xLabels = [2010, 2012, 2014, 2016];
const titleText = 'BMI over simulated time for each of 100 individuals';

const palette = ['#1f77b4', '#aec7e8', '#ff7f0e', '#ffbb78', '#2ca02c', '#98df8a',
  '#d62728', '#ff9896', '#9467bd', '#c5b0d5', '#8c564b', '#c49c94', '#e377c2',
  '#f7b6d2', '#7f7f7f', '#c7c7c7', '#bcbd22', '#dbdb8d', '#17becf', '#9edae5'];

const FONT = '"Liberation Sans", Arial, sans-serif';
const plotLeft = [32.3, 200.3, 369.7, 538.7];
const plotWidth = 137;
const plotTop = 65;
const plotHeight = 317.7;

const grids = [], xAxes = [], yAxes = [], series = [], graphics = [];

graphics.push({
  type: 'rect', shape: { x: 5, y: 4, width: 661, height: 39 },
  style: { fill: '#d6e6fa' }, silent: true
});
graphics.push({
  type: 'text', x: 335, y: 23.5, silent: true,
  style: { text: titleText, font: 'bold 10.8px ' + FONT, fill: '#111',
           textAlign: 'center', textVerticalAlign: 'middle' }
});

replicates.forEach((name, p) => {
  const left = plotLeft[p];
  graphics.push({
    type: 'rect', shape: { x: left - 27, y: 45, width: 164, height: 19.5 },
    style: { fill: '#ebcfcf' }, silent: true
  });
  graphics.push({
    type: 'text', x: left - 27 + 82, y: 55, silent: true,
    style: { text: name, font: 'bold 9px ' + FONT, fill: '#111',
             textAlign: 'center', textVerticalAlign: 'middle' }
  });

  // fixed plot rectangle: labels may sit outside it (and the last panel runs off the right edge)
  grids.push({ left: left, top: plotTop, width: plotWidth, height: plotHeight,
               outerBoundsMode: 'none', containLabel: false,
               show: true, borderColor: '#b8b8b8', borderWidth: 1 });

  xAxes.push({
    type: 'value', gridIndex: p, min: 2007.52, max: 2018.48,
    name: 'Simulated Date', nameLocation: 'middle', nameGap: 20,
    nameTextStyle: { fontSize: 8.5, color: '#333', fontFamily: FONT },
    axisLine: { lineStyle: { color: '#b8b8b8' } },
    axisTick: { customValues: xTicks, length: 3, lineStyle: { color: '#b8b8b8' } },
    axisLabel: { customValues: xLabels, fontSize: 8.5, color: '#333', margin: 4,
                 fontFamily: FONT, formatter: v => String(v) },
    splitLine: { show: false }
  });

  yAxes.push({
    type: 'value', gridIndex: p, min: 11.69, max: 38.42,
    name: 'bmi', nameLocation: 'middle', nameGap: 15, nameRotate: 90,
    nameTextStyle: { fontSize: 8.5, color: '#333', fontFamily: FONT },
    axisLine: { show: true, lineStyle: { color: '#b8b8b8' } },
    axisTick: { show: true, customValues: yTicks, length: 3, lineStyle: { color: '#b8b8b8' } },
    axisLabel: { customValues: yTicks, fontSize: 8.5, color: '#333', margin: 4,
                 fontFamily: FONT },
    splitLine: { show: false }
  });

  panelData[p].forEach((row, i) => {
    series.push({
      type: 'line', xAxisIndex: p, yAxisIndex: p,
      data: row.map((v, k) => [years[k], v]),
      smooth: 0.3, showSymbol: false, symbol: 'none', silent: true,
      lineStyle: { width: 1, color: palette[i % palette.length], opacity: 0.78 },
      emphasis: { disabled: true }
    });
  });
});

const chart = echarts.init(document.getElementById('chart'), null, { renderer: 'canvas' });
chart.setOption({
  animation: false,
  backgroundColor: '#fff',
  textStyle: { fontFamily: FONT },
  grid: grids,
  xAxis: xAxes,
  yAxis: yAxes,
  series: series,
  graphic: graphics
});
</script>
</body>
</html>
